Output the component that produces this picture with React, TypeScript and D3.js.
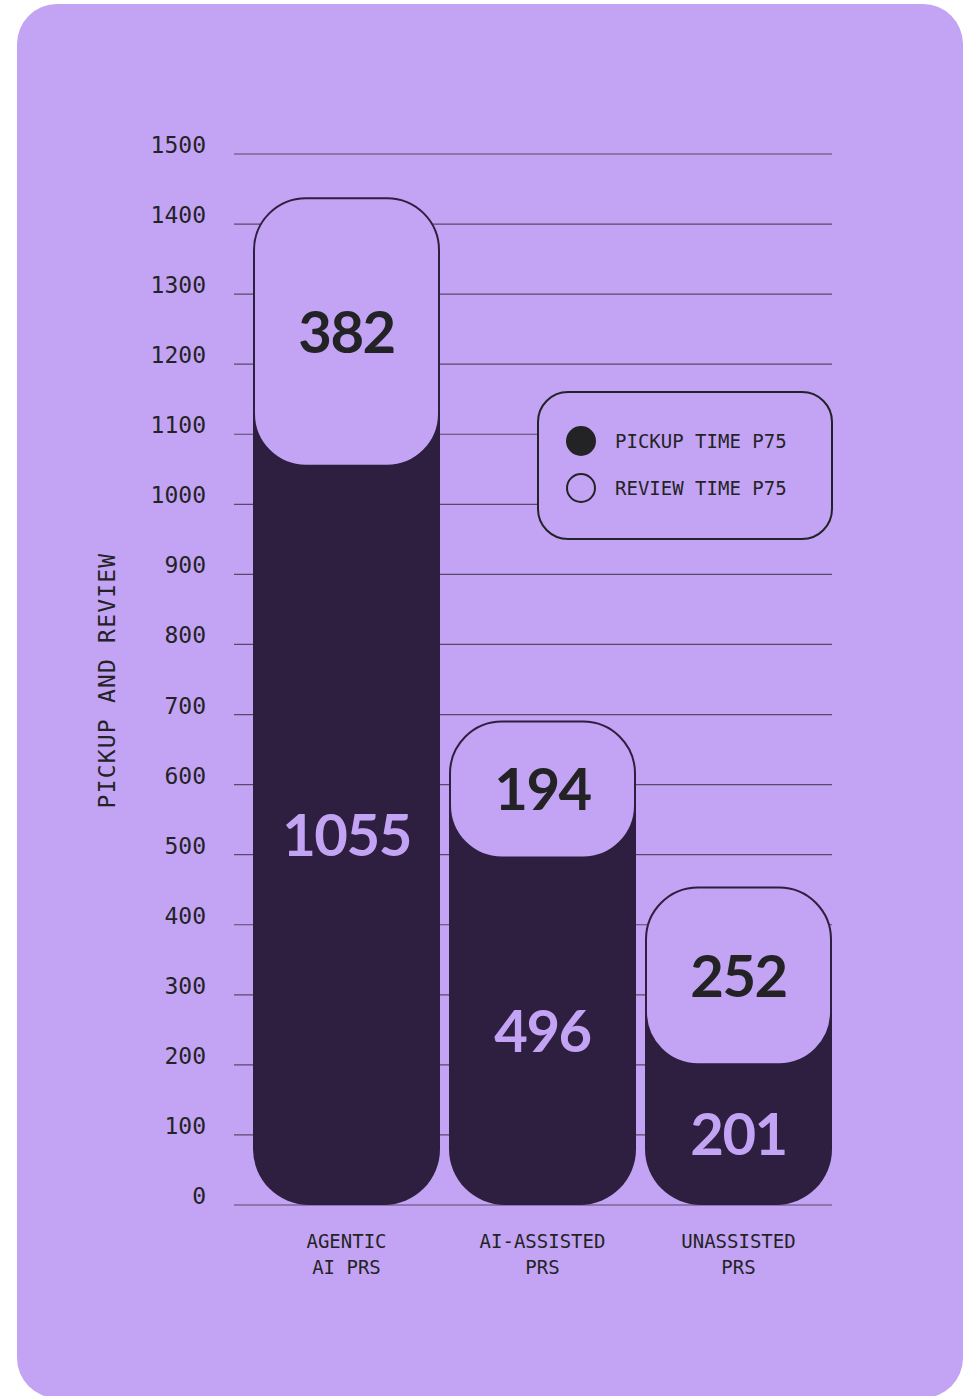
import React from "react";
import * as d3 from "d3";

const categories = [["AGENTIC", "AI PRS"], ["AI-ASSISTED", "PRS"], ["UNASSISTED", "PRS"]];
const categoryKeys = ["agentic", "assisted", "unassisted"];
const pickupValues = [1055, 496, 201];
const reviewValues = [382, 194, 252];
const yTicks = [0, 100, 200, 300, 400, 500, 600, 700, 800, 900, 1000, 1100, 1200, 1300, 1400, 1500];
const legendLabels = ["PICKUP TIME P75", "REVIEW TIME P75"];
const yTitle = "PICKUP AND REVIEW";

const W = 970;
const H = 1396;
const BG = "#c3a3f3";
const DARK = "#2e1f40";
const INK = "#232326";
const GRID = "#574a69";
const MONO = "'DejaVu Sans Mono', 'Liberation Mono', monospace";
const NUM = "Lato, 'Open Sans', sans-serif";

export default function App() {
  const y = d3.scaleLinear().domain([0, 1500]).range([1205, 154]);
  const x = d3.scaleBand<string>().domain(categoryKeys).range([253, 832]).paddingInner(9 / 196).paddingOuter(0);
  const bw = x.bandwidth();
  const rBottom = 56;
  const rCap = 52;

  const darkPath = (x0: number, yTop: number, yb: number, w: number, r: number) => {
    const p = d3.path();
    p.moveTo(x0, yTop);
    p.lineTo(x0 + w, yTop);
    p.lineTo(x0 + w, yb - r);
    p.arcTo(x0 + w, yb, x0 + w - r, yb, r);
    p.lineTo(x0 + r, yb);
    p.arcTo(x0, yb, x0, yb - r, r);
    p.closePath();
    return p.toString();
  };

  return (
    <svg width={W} height={H} style={{ position: "absolute", left: 0, top: 0, display: "block" }}>
      <rect x={0} y={0} width={W} height={H} fill="#ffffff" />
      <rect x={17} y={4} width={946} height={1394} rx={40} ry={40} fill={BG} />

      {/* grid + y tick labels */}
      {yTicks.map((t) => (
        <g key={t}>
          <line x1={234} x2={832} y1={y(t)} y2={y(t)} stroke={GRID} strokeWidth={1.2} />
          <text x={206} y={y(t) - 1} textAnchor="end" fontFamily={MONO} fontSize={23} fill={INK}>
            {t}
          </text>
        </g>
      ))}

      {/* y title */}
      <text
        transform={`translate(115, ${(y(0) + y(1500)) / 2 + 1}) rotate(-90)`}
        textAnchor="middle"
        fontFamily={MONO}
        fontSize={23}
        letterSpacing={1.2}
        fill={INK}
      >
        {yTitle}
      </text>

      {/* bars */}
      {categoryKeys.map((k, i) => {
        const x0 = x(k)!;
        const pick = pickupValues[i];
        const total = pick + reviewValues[i];
        const yPick = y(pick);
        const yTot = y(total);
        return (
          <g key={k}>
            <path d={darkPath(x0, yPick - rCap - 5, y(0), bw, rBottom)} fill={DARK} />
            <rect
              x={x0 + 1}
              y={yTot}
              width={bw - 2}
              height={yPick - yTot}
              rx={rCap}
              ry={rCap}
              fill={BG}
              stroke={DARK}
              strokeWidth={2}
            />
            <text
              x={x0 + bw / 2}
              y={(yTot + yPick) / 2}
              dy="0.36em"
              textAnchor="middle"
              fontFamily={NUM}
              fontWeight={700}
              fontSize={58}
              letterSpacing={-1.5}
              fill={INK}
            >
              {reviewValues[i]}
            </text>
            <text
              x={x0 + bw / 2}
              y={(yPick + y(0)) / 2}
              dy="0.36em"
              textAnchor="middle"
              fontFamily={NUM}
              fontWeight={700}
              fontSize={58}
              letterSpacing={-1.5}
              fill={BG}
            >
              {pick}
            </text>
            {categories[i].map((line, j) => (
              <text
                key={j}
                x={x0 + bw / 2}
                y={1248 + j * 26}
                textAnchor="middle"
                fontFamily={MONO}
                fontSize={19}
                fill={INK}
              >
                {line}
              </text>
            ))}
          </g>
        );
      })}

      {/* legend */}
      <rect x={538} y={392} width={294} height={147} rx={30} ry={30} fill={BG} stroke={INK} strokeWidth={2} />
      <circle cx={581} cy={441} r={15} fill={INK} />
      <circle cx={581} cy={488} r={14} fill="none" stroke={INK} strokeWidth={2} />
      {legendLabels.map((l, i) => (
        <text key={l} x={615} y={448 + i * 47} fontFamily={MONO} fontSize={19} fill={INK}>
          {l}
        </text>
      ))}
    </svg>
  );
}
